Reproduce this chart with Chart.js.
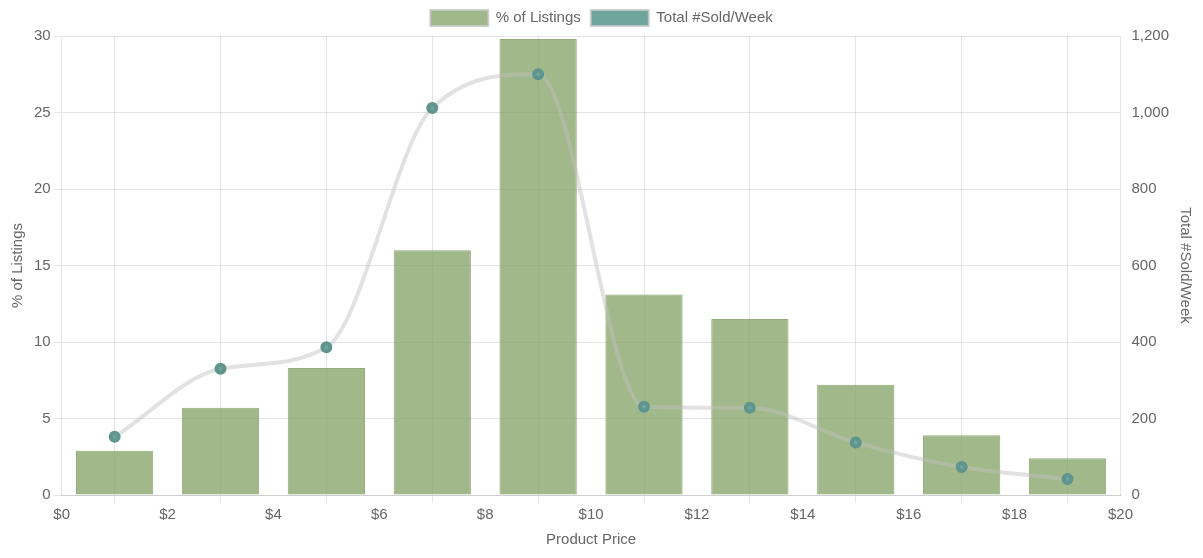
<!DOCTYPE html>
<html><head><script src="https://cdn.jsdelivr.net/npm/chart.js@4"></script>
<style>body{margin:0;background:#fff}#w{width:1203px;height:558px}</style></head>
<body><div id="w"><canvas id="c"></canvas></div>
<script>
const prices=[1,3,5,7,9,11,13,15,17,19];
const pctListings=[2.9,5.7,8.3,16,29.8,13.1,11.5,7.2,3.9,2.4];
const soldPerWeek=[152,330,386,1012,1100,231,228,137,73,42];
Chart.defaults.font.family="Helvetica, Arial, 'Liberation Sans', sans-serif";
Chart.defaults.font.size=15;Chart.defaults.color='#666';
new Chart(document.getElementById('c'),{
data:{datasets:[
{type:'line',label:'Total #Sold/Week',data:prices.map((x,i)=>({x,y:soldPerWeek[i]})),yAxisID:'y1',
 borderColor:'rgba(190,190,190,0.45)',borderWidth:4,tension:0.4,cubicInterpolationMode:'monotone',
 backgroundColor:'#6fa59d',pointBackgroundColor:'#6fa59d',pointBorderColor:'#5f958d',pointRadius:4,order:0},
{type:'bar',label:'% of Listings',data:prices.map((x,i)=>({x,y:pctListings[i]})),yAxisID:'y',
 backgroundColor:'rgba(135,165,105,0.78)',borderColor:'rgba(135,165,105,0.9)',borderWidth:1,
 barPercentage:0.73,categoryPercentage:1,order:1}
]},
options:{responsive:true,maintainAspectRatio:false,animation:false,
layout:{padding:{left:5,right:5,top:0,bottom:5}},
plugins:{legend:{reverse:true,labels:{boxWidth:58,boxHeight:16,color:'#666',
 generateLabels(ch){const l=Chart.defaults.plugins.legend.labels.generateLabels(ch);
 l.forEach(o=>{const ds=ch.data.datasets[o.datasetIndex];o.fillStyle=ds.type==='line'?'#6fa59d':'rgba(135,165,105,0.78)';o.strokeStyle='rgba(200,200,200,0.8)';o.lineWidth=2;});return l;}}},
 tooltip:{enabled:false}},
scales:{
x:{type:'linear',min:0,max:20,offset:false,ticks:{stepSize:2,callback:v=>'$'+v},
 title:{display:true,text:'Product Price'},grid:{color:'rgba(0,0,0,0.1)'}},
y:{position:'left',min:0,max:30,ticks:{stepSize:5},title:{display:true,text:'% of Listings'},grid:{color:'rgba(0,0,0,0.1)'}},
y1:{position:'right',min:0,max:1200,ticks:{stepSize:200},title:{display:true,text:'Total #Sold/Week'},grid:{display:false}}
}}});
</script></body></html>
